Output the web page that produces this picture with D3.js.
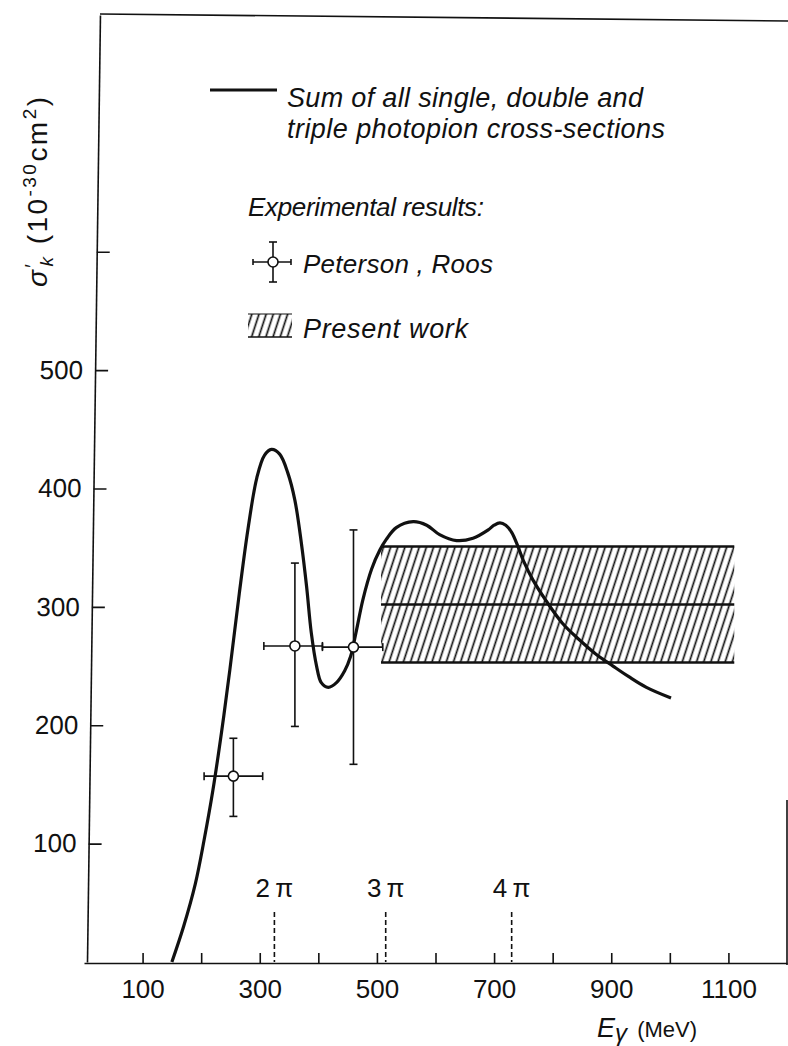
<!DOCTYPE html>
<html>
<head>
<meta charset="utf-8">
<script src="https://cdn.jsdelivr.net/npm/d3@7"></script>
<style>
body { margin: 0; background: #fff; }
svg { display: block; }
text { font-family: "Liberation Sans", Arial, sans-serif; fill: #111; }
</style>
</head>
<body>
<svg id="chart" width="788" height="1046"></svg>
<script>
// theory curve: sum of single, double and triple photopion cross-sections
const curveE = [150, 170, 190, 205, 220, 235, 249, 265, 280, 295, 308, 320, 334, 348, 360, 371, 380, 388, 397, 405,
  417, 431, 445, 455, 465, 476, 491, 505, 516, 533, 562, 585, 607, 636, 664, 690, 700, 710, 720, 730,
  740, 750, 766, 789, 817, 846, 874, 903, 930, 960, 1002]
const curveS = [0, 30, 66, 103, 145, 195, 247, 311, 366, 409, 428, 433, 429, 413, 390, 354, 317, 278, 250, 236,
  232, 236, 246, 258, 280, 306, 332, 348, 357, 367, 372, 369, 361, 356, 358, 365, 369, 371, 369, 363,
  352, 339, 323, 305, 286, 272, 260, 250, 241, 232, 223]

// Peterson, Roos points with error bars
const ptE = [255, 360, 460]
const ptS = [157, 267, 266]
const ptELo = [205, 307, 407]
const ptEHi = [305, 407, 510]
const ptSLo = [123, 199, 167]
const ptSHi = [189, 337, 365]

// present work band
const bandE = [507, 1110]
const bandS = [253, 302, 351] // bottom, mean, top

// thresholds
const piE = [325, 515, 730]
const piLabels = ['2\u2009\u03c0', '3\u2009\u03c0', '4\u2009\u03c0']

const xTicks = [100, 200, 300, 400, 500, 600, 700, 800, 900, 1000, 1100]
const xLabels = [100, 300, 500, 700, 900, 1100]
const yTicks = [100, 200, 300, 400, 500, 600]
const yLabels = [100, 200, 300, 400, 500]

const W = 788, H = 1046
const ink = '#111'
const x = d3.scaleLinear().domain([0, 1200]).range([84, 787])
const y = d3.scaleLinear().domain([0, 800]).range([962, 15])

const svg = d3.select('#chart')
svg.append('rect').attr('width', W).attr('height', H).attr('fill', '#fff')

const defs = svg.append('defs')
defs.append('pattern').attr('id', 'hatch')
    .attr('patternUnits', 'userSpaceOnUse')
    .attr('width', 6.8).attr('height', 20)
    .attr('patternTransform', 'rotate(18)')
  .append('line')
    .attr('x1', 3.4).attr('y1', 0).attr('x2', 3.4).attr('y2', 20)
    .attr('stroke', ink).attr('stroke-width', 1.7)

// axes; the scanned left axis leans a bit, so skew its group
const k = 13 / 949
const gy = svg.append('g')
  .attr('transform', `translate(${87 + k * 962},0) skewX(${-Math.atan(k) * 180 / Math.PI})`)
  .call(d3.axisLeft(y).tickValues(yTicks)
    .tickFormat(d => yLabels.includes(d) ? d : '')
    .tickSizeInner(-13).tickSizeOuter(0).tickPadding(12))
const gx = svg.append('g').attr('transform', 'translate(0,963)')
  .call(d3.axisBottom(x).tickValues(xTicks)
    .tickFormat(d => xLabels.includes(d) ? d : '')
    .tickSizeInner(-10).tickSizeOuter(0).tickPadding(17))
;[gx, gy].forEach(g => {
  g.attr('font-family', null).attr('font-size', null)
  g.selectAll('path, line').attr('stroke', ink).attr('stroke-width', 1.6)
  g.selectAll('text').attr('font-size', 26).attr('fill', ink)
})

// rest of the frame
svg.append('path').attr('d', 'M100,14L788,21')
  .attr('stroke', ink).attr('stroke-width', 1.6).attr('fill', 'none')
svg.append('line').attr('x1', 787).attr('x2', 787).attr('y1', 800).attr('y2', 965)
  .attr('stroke', ink).attr('stroke-width', 1.6)

// axis titles
const yt = svg.append('text')
  .attr('transform', 'translate(47,192) rotate(-90)')
  .attr('text-anchor', 'middle').attr('font-size', 28)
  .attr('textLength', 190).attr('lengthAdjust', 'spacing')
yt.append('tspan').attr('font-style', 'italic').text('\u03c3')
yt.append('tspan').attr('font-size', 20).attr('dy', -8).text('\u2032')
yt.append('tspan').attr('font-style', 'italic').attr('font-size', 19).attr('dx', -5).attr('dy', 14).text('k')
yt.append('tspan').attr('dy', -6).text(' (10')
yt.append('tspan').attr('font-size', 19).attr('dy', -11).text('-30')
yt.append('tspan').attr('dy', 11).text('cm')
yt.append('tspan').attr('font-size', 19).attr('dy', -11).text('2')
yt.append('tspan').attr('dy', 11).text(')')

const xt = svg.append('text').attr('x', 597).attr('y', 1037)
xt.append('tspan').attr('font-style', 'italic').attr('font-size', 27).text('E')
xt.append('tspan').attr('font-style', 'italic').attr('font-size', 24).attr('dy', 4).text('\u03b3')
xt.append('tspan').attr('font-size', 22).attr('dx', 4).attr('dy', -4).text(' (MeV)')

// thresholds
const th = svg.append('g')
th.selectAll('line').data(piE).join('line')
  .attr('x1', d => x(d)).attr('x2', d => x(d))
  .attr('y1', 912).attr('y2', 962)
  .attr('stroke', ink).attr('stroke-width', 1.6).attr('stroke-dasharray', '5,3')
th.selectAll('text').data(piE).join('text')
  .attr('x', d => x(d)).attr('y', 897).attr('text-anchor', 'middle')
  .attr('font-size', 26).text((d, i) => piLabels[i])

// band of present work
svg.append('rect')
  .attr('x', x(bandE[0])).attr('width', x(bandE[1]) - x(bandE[0]))
  .attr('y', y(bandS[2])).attr('height', y(bandS[0]) - y(bandS[2]))
  .attr('fill', 'url(#hatch)')
svg.append('g').selectAll('line').data(bandS).join('line')
  .attr('x1', x(bandE[0])).attr('x2', x(bandE[1]))
  .attr('y1', d => y(d)).attr('y2', d => y(d))
  .attr('stroke', ink).attr('stroke-width', 2.6)

// curve
const line = d3.line().x(d => x(d[0])).y(d => y(d[1])).curve(d3.curveCatmullRom)
svg.append('path').datum(d3.zip(curveE, curveS))
  .attr('d', line).attr('fill', 'none')
  .attr('stroke', ink).attr('stroke-width', 3.2).attr('stroke-linejoin', 'round')

// error bars
const pts = svg.append('g').attr('stroke', ink).attr('stroke-width', 1.6)
ptE.forEach((e, i) => {
  const cx = x(e), cy = y(ptS[i])
  pts.append('line').attr('x1', cx).attr('x2', cx).attr('y1', y(ptSLo[i])).attr('y2', y(ptSHi[i]))
  pts.append('line').attr('x1', x(ptELo[i])).attr('x2', x(ptEHi[i])).attr('y1', cy).attr('y2', cy)
  ;[ptSLo[i], ptSHi[i]].forEach(s => pts.append('line')
    .attr('x1', cx - 4).attr('x2', cx + 4).attr('y1', y(s)).attr('y2', y(s)))
  ;[ptELo[i], ptEHi[i]].forEach(v => pts.append('line')
    .attr('x1', x(v)).attr('x2', x(v)).attr('y1', cy - 4).attr('y2', cy + 4))
  pts.append('circle').attr('cx', cx).attr('cy', cy).attr('r', 5).attr('fill', '#fff')
})

// legend
const lg = svg.append('g')
lg.append('line').attr('x1', 210).attr('x2', 277).attr('y1', 90).attr('y2', 90)
  .attr('stroke', ink).attr('stroke-width', 3)
const legendText = (tx, ty, s, len, size) => {
  const t = lg.append('text').attr('x', tx).attr('y', ty)
    .attr('font-style', 'italic').attr('font-size', size).text(s)
  if (len) t.attr('textLength', len).attr('lengthAdjust', 'spacing')
}
legendText(287, 107, 'Sum of all single, double and', 356, 27)
legendText(287, 138, 'triple photopion cross-sections', 378, 27)
legendText(248, 216, 'Experimental results:', 236, 26)
legendText(303, 273, 'Peterson , Roos', 190, 26)
legendText(303, 338, 'Present  work', 165, 27)

const sym = lg.append('g').attr('stroke', ink).attr('stroke-width', 1.6)
sym.append('line').attr('x1', 273).attr('x2', 273).attr('y1', 242).attr('y2', 282)
sym.append('line').attr('x1', 253).attr('x2', 291).attr('y1', 262).attr('y2', 262)
sym.append('line').attr('x1', 269).attr('x2', 277).attr('y1', 242).attr('y2', 242)
sym.append('line').attr('x1', 269).attr('x2', 277).attr('y1', 282).attr('y2', 282)
sym.append('line').attr('x1', 253).attr('x2', 253).attr('y1', 259).attr('y2', 265)
sym.append('line').attr('x1', 291).attr('x2', 291).attr('y1', 259).attr('y2', 265)
sym.append('circle').attr('cx', 273).attr('cy', 262).attr('r', 5).attr('fill', '#fff')

lg.append('rect').attr('x', 248).attr('y', 314).attr('width', 44).attr('height', 23)
  .attr('fill', 'url(#hatch)')
lg.append('line').attr('x1', 248).attr('x2', 292).attr('y1', 314).attr('y2', 314)
  .attr('stroke', ink).attr('stroke-width', 1.2)
lg.append('line').attr('x1', 248).attr('x2', 292).attr('y1', 337).attr('y2', 337)
  .attr('stroke', ink).attr('stroke-width', 1.6)
</script>
</body>
</html>
